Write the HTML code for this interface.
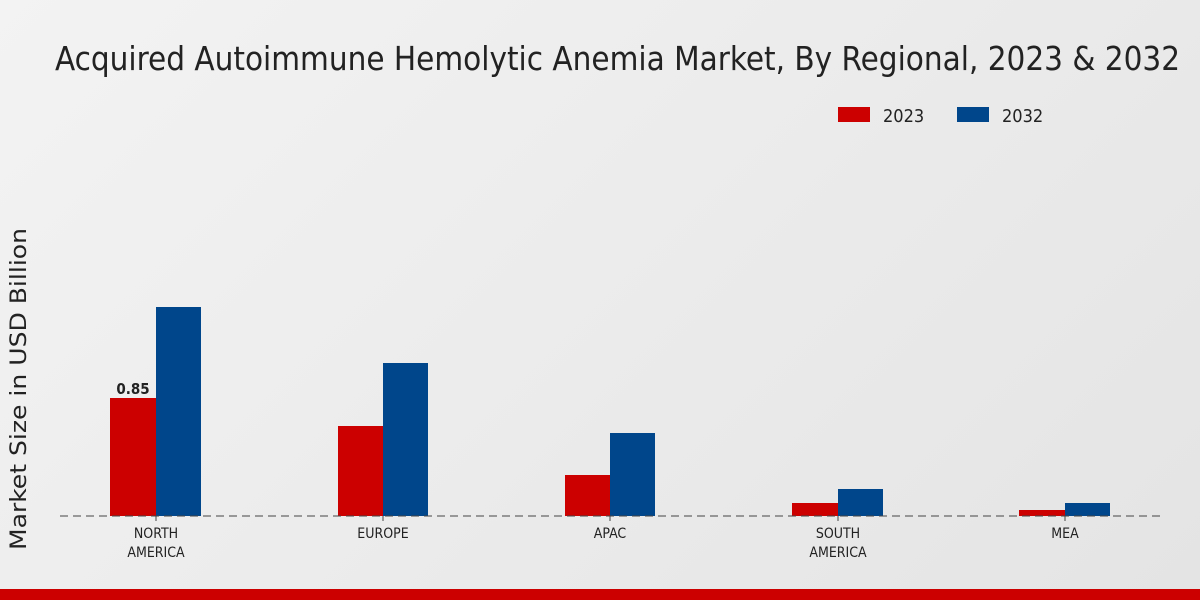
<!DOCTYPE html>
<html><head><style>
body{margin:0;width:1200px;height:600px;overflow:hidden;background:linear-gradient(135deg,#f3f3f3,#e4e4e4);}
svg{display:block}
text{font-family:"DejaVu Sans Condensed","DejaVu Sans","Liberation Sans",sans-serif;fill:#222}
</style></head><body>
<svg width="1200" height="600" xmlns="http://www.w3.org/2000/svg">
<text x="55" y="70" font-size="33" textLength="1125" lengthAdjust="spacingAndGlyphs">Acquired Autoimmune Hemolytic Anemia Market, By Regional, 2023 &amp; 2032</text>
<rect x="838" y="107" width="32" height="15" fill="#cc0000"/>
<text x="883" y="122" font-size="18">2023</text>
<rect x="957" y="107" width="32" height="15" fill="#00468b"/>
<text x="1002" y="122" font-size="18">2032</text>
<text transform="translate(26,389) rotate(-90)" font-size="22" font-family="DejaVu Sans, sans-serif" text-anchor="middle" textLength="322" lengthAdjust="spacingAndGlyphs">Market Size in USD Billion</text>
<g fill="#cc0000">
<rect x="110" y="398" width="46" height="118"/>
<rect x="338" y="426" width="45" height="90"/>
<rect x="565" y="475" width="45" height="41"/>
<rect x="792" y="503" width="46" height="13"/>
<rect x="1019" y="510" width="46" height="6"/>
</g>
<g fill="#00468b">
<rect x="156" y="307" width="45" height="209"/>
<rect x="383" y="363" width="45" height="153"/>
<rect x="610" y="433" width="45" height="83"/>
<rect x="838" y="489" width="45" height="27"/>
<rect x="1065" y="503" width="45" height="13"/>
</g>
<line x1="60" y1="516" x2="1160" y2="516" stroke="#444" stroke-width="1" stroke-dasharray="8,5"/>
<g stroke="#444"><line x1="156" y1="516" x2="156" y2="521"/><line x1="383" y1="516" x2="383" y2="521"/><line x1="610" y1="516" x2="610" y2="521"/><line x1="838" y1="516" x2="838" y2="521"/><line x1="1065" y1="516" x2="1065" y2="521"/></g>
<text x="133" y="394" font-size="15" font-weight="bold" text-anchor="middle">0.85</text>
<g font-size="14" text-anchor="middle">
<text x="156" y="538">NORTH</text><text x="156" y="557">AMERICA</text>
<text x="383" y="538">EUROPE</text>
<text x="610" y="538">APAC</text>
<text x="838" y="538">SOUTH</text><text x="838" y="557">AMERICA</text>
<text x="1065" y="538">MEA</text>
</g>
<rect x="0" y="589" width="1200" height="11" fill="#cc0000"/>
</svg>
</body></html>
